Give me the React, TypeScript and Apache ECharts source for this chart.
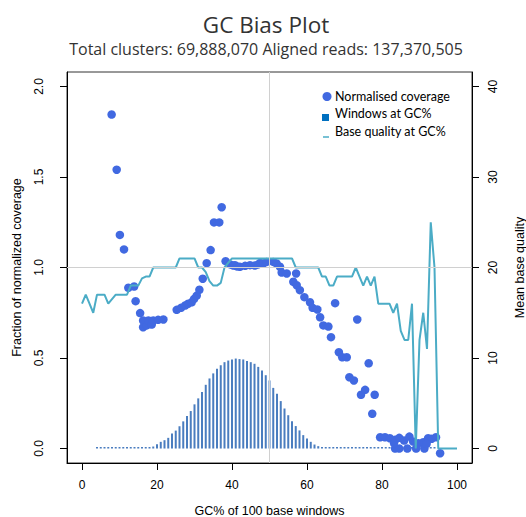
import React, { useEffect, useRef } from "react";
import * as echarts from "echarts";

// ---- Data ----
const xTicks = [0, 20, 40, 60, 80, 100];
const leftTicks = [0, 0.5, 1.0, 1.5, 2.0];
const rightTicks = [0, 10, 20, 30, 40];

// Windows at GC% (fraction, left axis)
const windowsGC = [
  4, 5, 6, 7, 8, 9, 10, 11, 12, 13, 14, 15,
  16, 17, 18, 19, 20, 21, 22, 23, 24, 25, 26, 27, 28, 29, 30, 31, 32, 33, 34, 35,
  36, 37, 38, 39, 40, 41, 42, 43, 44, 45, 46, 47, 48, 49, 50, 51, 52, 53, 54, 55,
  56, 57, 58, 59, 60, 61, 62, 63, 64, 65, 66, 67,
  68, 69, 70, 71, 72, 73, 74, 75, 76, 77, 78, 79, 80, 81, 82, 83, 84, 85, 86, 87,
  88, 89, 90, 91, 92, 93, 94,
];
const windowsValue = [
  0.002, 0.002, 0.002, 0.002, 0.002, 0.002, 0.002, 0.002, 0.002, 0.002, 0.003, 0.003,
  0.004, 0.007, 0.006, 0.011, 0.024, 0.037, 0.046, 0.059, 0.083, 0.099, 0.123, 0.15,
  0.18, 0.207, 0.244, 0.277, 0.312, 0.352, 0.387, 0.415, 0.44, 0.46, 0.477, 0.486,
  0.492, 0.497, 0.494, 0.492, 0.484, 0.477, 0.468, 0.451, 0.431, 0.405, 0.376, 0.335,
  0.302, 0.262, 0.221, 0.184, 0.151, 0.124, 0.1, 0.074, 0.055, 0.037, 0.022, 0.013,
  0.009, 0.006, 0.004, 0.003,
  0.002, 0.002, 0.002, 0.002, 0.002, 0.002, 0.002, 0.002, 0.002, 0.002, 0.002, 0.002,
  0.002, 0.002, 0.002, 0.002, 0.002, 0.002, 0.002, 0.002, 0.002, 0.002, 0.002, 0.002,
  0.002, 0.002, 0.002,
];

// Base quality at GC% (right axis), GC 0..100
const qualityGC = [
  0, 1, 2, 3, 4, 5, 6, 7, 8, 9, 10, 11, 12, 13, 14, 15, 16, 17, 18, 19, 20,
  21, 22, 23, 24, 25, 26, 27, 28, 29, 30, 31, 32, 33, 34, 35, 36, 37, 38, 39, 40,
  41, 42, 43, 44, 45, 46, 47, 48, 49, 50, 51, 52, 53, 54, 55, 56, 57, 58, 59, 60,
  61, 62, 63, 64, 65, 66, 67, 68, 69, 70, 71, 72, 73, 74, 75, 76, 77, 78, 79, 80,
  81, 82, 83, 84, 85, 86, 87, 88, 89, 90, 91, 92, 93, 94, 95, 96, 97, 98, 99, 100,
];
const qualityValue = [
  16, 17, 16, 15, 17, 17, 17, 16, 16.5, 17, 17, 17, 17, 18, 18, 18, 18.8, 19, 19, 20, 20,
  20, 20, 20, 20, 20, 21, 21, 21, 21, 21, 20, 20, 19.5, 18.5, 18, 18, 18.3, 20, 20.5, 21,
  21, 21, 21, 21, 21, 21, 21, 21, 21, 21, 21, 21, 21, 21, 21, 21, 20, 20, 20, 20,
  20, 20, 20, 19, 19, 18, 18, 19, 19, 19, 19, 19, 20, 19, 18, 19, 18, 19, 16, 16,
  16, 16, 15, 16, 13, 12, 12, 16, 0, 12, 15, 11, 25, 20, 0, 0, 0, 0, 0, 0,
];

// Normalised coverage points
const coverageGC = [
  7.9, 9.25, 10.1, 11.2, 12.35, 13.9, 14.3, 15.5, 16.3, 16.3, 17.25, 17.7, 18.6, 19.0,
  20.3, 21.7, 25.25, 26.4, 27.5, 28.3, 29.25, 29.9, 30.6, 31.3, 32.2, 33.25, 34.3, 35.2,
  36.6, 37.25, 38.3, 39.5, 40.35, 40.8, 41.3, 42.1, 43.5, 44.8, 46.1, 47.0, 47.5, 48.3,
  49.25, 51.0, 51.9, 52.8, 53.25, 54.6, 57.1, 56.35, 57.25, 58.1, 59.3, 60.8, 61.5,
  62.75, 63.5, 64.35, 65.7, 66.4, 67.5, 68.5, 69.4, 70.6, 71.3, 72.5, 73.4, 74.4, 75.5,
  76.45, 77.4, 78.05, 79.5, 80.8, 82.1, 83.5, 84.6, 85.9, 87.3, 88.3, 89.7, 91.0, 92.3,
  93.25, 94.4, 83.5, 84.6, 86.75, 89.1, 91.3, 83.2, 91.9, 95.5,
];
const coverageValue = [
  1.845, 1.54, 1.18, 1.1, 0.888, 0.895, 0.814, 0.748, 0.707, 0.67, 0.68, 0.707, 0.685, 0.707,
  0.711, 0.713, 0.766, 0.777, 0.79, 0.8, 0.808, 0.827, 0.845, 0.877, 0.938, 1.024, 1.096, 1.249,
  1.249, 1.333, 1.035, 1.017, 1.011, 1.013, 1.006, 1.004, 1.009, 1.013, 1.011, 1.017, 1.025, 1.022,
  1.031, 1.031, 1.022, 1.004, 0.972, 0.967, 0.967, 0.921, 0.902, 0.875, 0.836, 0.808, 0.777,
  0.768, 0.725, 0.68, 0.674, 0.615, 0.803, 0.532, 0.504, 0.504, 0.394, 0.376, 0.713, 0.297, 0.324,
  0.471, 0.192, 0.297, 0.062, 0.062, 0.057, 0.048, 0.059, 0.044, 0.066, 0.039, 0.029, 0.035, 0.057,
  0.054, 0.062, 0.0, 0.0, 0.0, 0.0, 0.0, 0.03, 0.026, -0.026,
];

const AXIS_FONT = '"Liberation Sans", Arial, sans-serif';
const TITLE_FONT = '"Open Sans", "Noto Sans", sans-serif';
const LEGEND_FONT = 'Lato, "Open Sans", sans-serif';

const COLOR_POINTS = "#4169e1";
const COLOR_BARS = "#4a7dbf";
const COLOR_LINE = "#4bacc6";
const COLOR_LEGEND_SQ = "#0070c0";

export default function App() {
  const ref = useRef<HTMLDivElement>(null);

  useEffect(() => {
    if (!ref.current) return;
    const chart = echarts.init(ref.current, null, { renderer: "svg" });

    const bars = windowsGC.map((g, i) => [g, windowsValue[i]]);
    const quality = qualityGC.map((g, i) => [g, qualityValue[i]]);
    const points = coverageGC.map((g, i) => [g, coverageValue[i]]);

    const axisCommon = {
      axisLine: { show: true, onZero: false, lineStyle: { color: "#000", width: 1 } },
      splitLine: { show: false },
      nameTextStyle: { fontFamily: AXIS_FONT, fontSize: 12.5, color: "#000" },
    };

    chart.setOption({
      animation: false,
      backgroundColor: "#fff",
      grid: {
        left: 67,
        top: 72,
        width: 405,
        height: 391,
        containLabel: false,
        outerBoundsMode: "none",
        show: true,
        borderColor: "#333",
        borderWidth: 1,
        backgroundColor: "transparent",
      },
      xAxis: {
        type: "value",
        min: -4,
        max: 104,
        ...axisCommon,
        axisTick: { show: true, customValues: xTicks, length: 7, lineStyle: { color: "#000" } },
        axisLabel: {
          customValues: xTicks,
          margin: 16,
          fontSize: 12,
          color: "#000",
          fontFamily: AXIS_FONT,
        },
        name: "GC% of 100 base windows",
        nameLocation: "middle",
        nameGap: 41,
      },
      yAxis: [
        {
          type: "value",
          min: -0.08,
          max: 2.08,
          position: "left",
          ...axisCommon,
          axisTick: { show: true, customValues: leftTicks, length: 7, lineStyle: { color: "#000" } },
          axisLabel: {
            customValues: leftTicks,
            rotate: 90,
            margin: 22,
            fontSize: 12,
            color: "#000",
            fontFamily: AXIS_FONT,
            formatter: (v: number) => v.toFixed(1),
          },
          name: "Fraction of normalized coverage",
          nameLocation: "middle",
          nameGap: 44,
          nameRotate: 90,
        },
        {
          type: "value",
          min: -1.6,
          max: 41.6,
          position: "right",
          ...axisCommon,
          axisTick: { show: true, customValues: rightTicks, length: 7, lineStyle: { color: "#000" } },
          axisLabel: {
            customValues: rightTicks,
            rotate: 90,
            margin: 15,
            fontSize: 12,
            color: "#000",
            fontFamily: AXIS_FONT,
          },
          name: "Mean base quality",
          nameLocation: "middle",
          nameGap: 41,
          nameRotate: 90,
        },
      ],
      graphic: [
        {
          type: "text",
          x: 266,
          y: 24,
          style: {
            text: "GC Bias Plot",
            font: `22.5px ${TITLE_FONT}`,
            fill: "#333",
            align: "center",
            verticalAlign: "middle",
          },
        },
        {
          type: "text",
          x: 266,
          y: 49,
          style: {
            text: "Total clusters: 69,888,070 Aligned reads: 137,370,505",
            font: `16px ${TITLE_FONT}`,
            fill: "#333",
            align: "center",
            verticalAlign: "middle",
          },
        },
        { type: "circle", shape: { cx: 327, cy: 96.5, r: 4.5 }, style: { fill: COLOR_POINTS } },
        {
          type: "text",
          x: 335,
          y: 96,
          style: { text: "Normalised coverage", font: `12.5px ${LEGEND_FONT}`, fill: "#000", verticalAlign: "middle" },
        },
        { type: "rect", shape: { x: 322, y: 114, width: 7, height: 7 }, style: { fill: COLOR_LEGEND_SQ } },
        {
          type: "text",
          x: 335,
          y: 113,
          style: { text: "Windows at GC%", font: `12.5px ${LEGEND_FONT}`, fill: "#000", verticalAlign: "middle" },
        },
        {
          type: "line",
          shape: { x1: 323, y1: 137, x2: 329, y2: 137 },
          style: { stroke: COLOR_LINE, lineWidth: 1.5 },
        },
        {
          type: "text",
          x: 335,
          y: 131,
          style: { text: "Base quality at GC%", font: `12.5px ${LEGEND_FONT}`, fill: "#000", verticalAlign: "middle" },
        },
      ],
      series: [
        {
          name: "Windows at GC%",
          type: "bar",
          xAxisIndex: 0,
          yAxisIndex: 0,
          data: bars,
          barWidth: 2,
          barMinHeight: 1.5,
          itemStyle: { color: COLOR_BARS },
          z: 2,
          markLine: {
            silent: true,
            symbol: ["none", "none"],
            label: { show: false },
            lineStyle: { color: "#d0d0d0", type: "solid", width: 1 },
            data: [{ xAxis: 50 }, { yAxis: 1 }],
          },
        },
        {
          name: "Normalised coverage",
          type: "scatter",
          xAxisIndex: 0,
          yAxisIndex: 0,
          data: points,
          symbol: "circle",
          symbolSize: 8.5,
          itemStyle: { color: COLOR_POINTS, opacity: 1 },
          z: 3,
        },
        {
          name: "Base quality at GC%",
          type: "line",
          xAxisIndex: 0,
          yAxisIndex: 1,
          data: quality,
          showSymbol: false,
          symbol: "none",
          lineStyle: { color: COLOR_LINE, width: 2 },
          z: 4,
        },
      ],
    });

    return () => chart.dispose();
  }, []);

  return (
    <div
      ref={ref}
      style={{ position: "absolute", left: 0, top: 0, width: 526, height: 517 }}
    />
  );
}
